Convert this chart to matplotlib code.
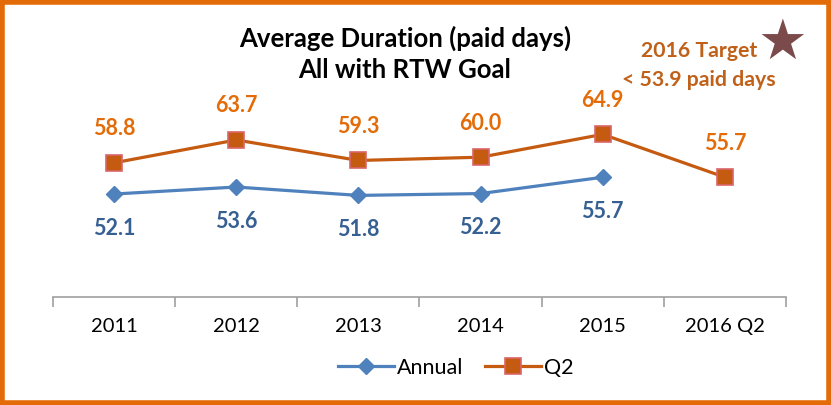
import matplotlib.pyplot as plt
from matplotlib.patches import Rectangle

categories = ['2011', '2012', '2013', '2014', '2015', '2016 Q2']
annual = [52.1, 53.6, 51.8, 52.2, 55.7]
q2 = [58.8, 63.7, 59.3, 60.0, 64.9, 55.7]

plt.rcParams['font.family'] = ['Lato', 'DejaVu Sans']

fig = plt.figure(figsize=(8.31, 4.05), dpi=100)
W, H = 831, 405
ax = fig.add_axes([53 / W, 1 - 297 / H, (786 - 53) / W, (297 - 64) / H])

x_a = list(range(len(annual)))
x_q = list(range(len(q2)))
ax.plot(x_a, annual, color='#4F81BD', lw=2.3, marker='D', ms=8,
        mfc='#4F81BD', mec='#4F81BD', label='Annual', zorder=3)
ax.plot(x_q, q2, color='#C55A11', lw=2.3, marker='s', ms=11,
        mfc='#C55A11', mec='#D9666A', mew=1.2, label='Q2', zorder=3)

for x, v in zip(x_q, q2):
    ax.annotate(f'{v:.1f}', (x, v), xytext=(0, 17), textcoords='offset points',
                ha='center', va='bottom', fontsize=15.5, fontweight='bold', color='#E36C09')
for x, v in zip(x_a, annual):
    ax.annotate(f'{v:.1f}', (x, v), xytext=(0, -17), textcoords='offset points',
                ha='center', va='top', fontsize=15.5, fontweight='bold', color='#376092')

ax.set_xlim(-0.5, 5.5)
ax.set_ylim(30, 80)
ax.set_yticks([])
ax.set_xticks(x_q)
ax.set_xticklabels(categories, fontsize=14.5)
ax.set_xticks([i - 0.5 for i in range(7)], minor=True)
ax.tick_params(axis='x', which='major', length=0, pad=15)
ax.tick_params(axis='x', which='minor', length=7, color='#A0A0A0', width=1.2)
for s in ['top', 'left', 'right']:
    ax.spines[s].set_visible(False)
ax.spines['bottom'].set_color('#A0A0A0')
ax.spines['bottom'].set_linewidth(1.2)

fig.legend(loc='center', bbox_to_anchor=(456 / W, 1 - 368 / H), ncol=2, frameon=False,
           fontsize=15.5, handlelength=2.6, columnspacing=1.0, handletextpad=0.15)

fig.text(405 / W, 1 - 38 / H, 'Average Duration (paid days)', ha='center', va='center',
         fontsize=18.5, fontweight='bold')
fig.text(405 / W, 1 - 70 / H, 'All with RTW Goal', ha='center', va='center',
         fontsize=18.5, fontweight='bold')
fig.text(699 / W, 1 - 51 / H, '2016 Target', ha='center', va='center',
         fontsize=15.3, fontweight='bold', color='#C0611A')
fig.text(699 / W, 1 - 80 / H, '< 53.9 paid days', ha='center', va='center',
         fontsize=15.3, fontweight='bold', color='#C0611A')
fig.text(782 / W, 1 - 44 / H, '★', ha='center', va='center', fontsize=40,
         color='#7B4A4A', family='DejaVu Sans')

fig.patches.append(Rectangle((0.002, 0.004), 0.996, 0.992, transform=fig.transFigure,
                             fill=False, edgecolor='#E36C09', lw=4))

fig.savefig('out.png', dpi=100)
